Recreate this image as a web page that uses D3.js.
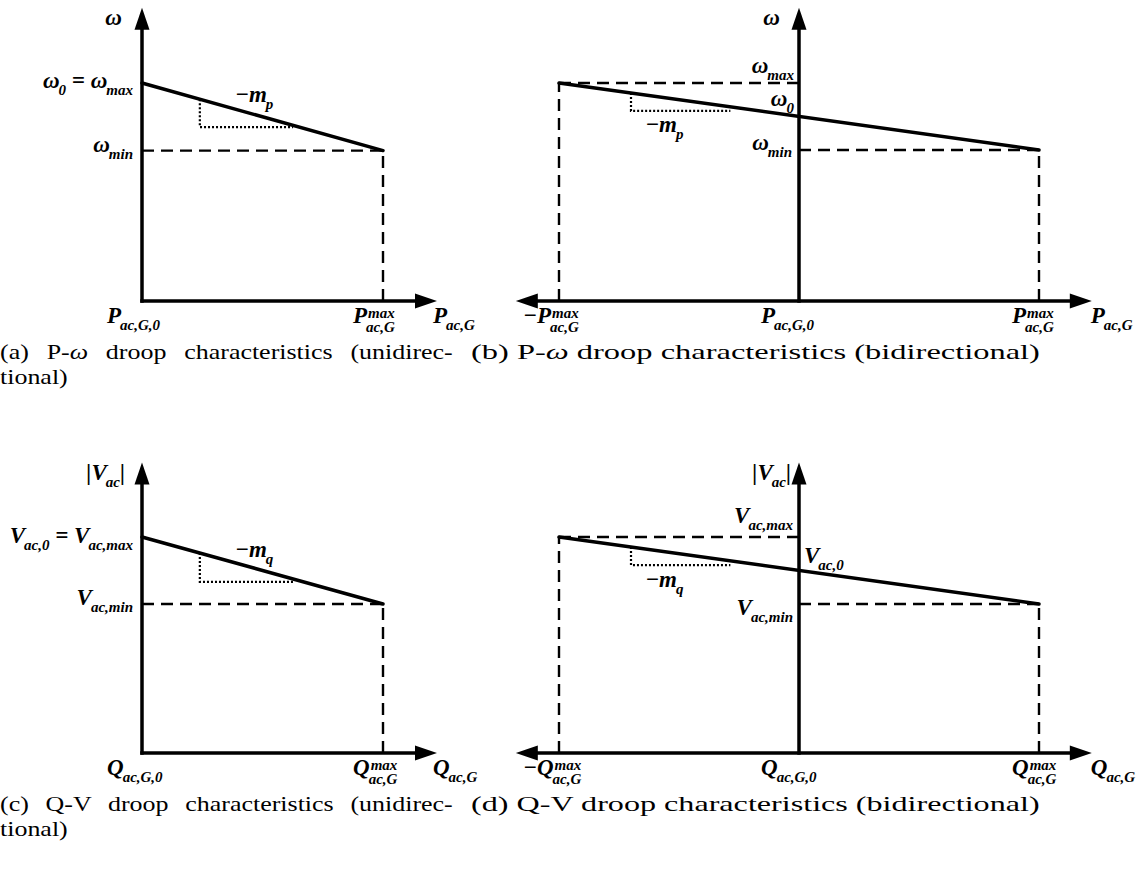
<!DOCTYPE html>
<html>
<head>
<meta charset="utf-8">
<script src="https://cdn.jsdelivr.net/npm/d3@7"></script>
<style>
body { margin: 0; background: #fff; }
.lbl { font-family: "Liberation Serif", "Times New Roman", serif; font-weight: bold; font-style: italic; fill: #000; white-space: pre; }
.cap { font-family: "Liberation Serif", "Times New Roman", serif; font-size: 22px; fill: #000; white-space: pre; }
</style>
</head>
<body>
<svg id="fig" width="1140" height="878"></svg>
<script>
// droop lines: [power (p.u. of max), omega / voltage (p.u. of max)]
var droopA = [[0, 1.0], [1, 0.69]];
var droopB = [[-1, 1.0], [1, 0.693]];
var droopC = [[0, 1.0], [1, 0.69]];
var droopD = [[-1, 1.0], [1, 0.69]];

// dotted slope triangles: [x start, x end, y of bottom edge]
var slopeA = [0.24, 0.627, 0.798];
var slopeB = [-0.70, -0.286, 0.872];
var slopeC = [0.24, 0.627, 0.792];
var slopeD = [-0.70, -0.286, 0.870];

// axis extents (where the arrow tips are)
var xExtUni = [0, 1.224];
var xExtBi = [-1.18, 1.22];
var yExt = [0, 1.345];

// label texts: [text, "sub"|"sup", "stack"]
var yTitleW = [["ω"]];
var yTitleV = [["|V"], ["ac", "sub"], ["|"]];

var yLabelsA = [
  {v: 1.0, parts: [["ω"], ["0", "sub"], [" = ω"], ["max", "sub"]]},
  {v: 0.69, parts: [["ω"], ["min", "sub"]]}
];
var yLabelsB = [
  {v: 1.0, parts: [["ω"], ["max", "sub"]]},
  {v: 0.8465, parts: [["ω"], ["0", "sub"]]},
  {v: 0.693, parts: [["ω"], ["min", "sub"]]}
];
var yLabelsC = [
  {v: 1.0, parts: [["V"], ["ac,0", "sub"], [" = V"], ["ac,max", "sub"]]},
  {v: 0.69, parts: [["V"], ["ac,min", "sub"]]}
];
var yLabelsD = [
  {v: 1.0, parts: [["V"], ["ac,max", "sub"]]},
  {v: 0.845, parts: [["V"], ["ac,0", "sub"]]},
  {v: 0.69, parts: [["V"], ["ac,min", "sub"]]}
];

var xLabelsP = [
  {v: 0, parts: [["P"], ["ac,G,0", "sub"]]},
  {v: 1, parts: [["P"], ["max", "sup"], ["ac,G", "sub", "stack"]]},
  {v: 1.224, parts: [["P"], ["ac,G", "sub"]]}
];
var xLabelsPbi = [
  {v: -1, parts: [["−P"], ["max", "sup"], ["ac,G", "sub", "stack"]]},
  {v: 0, parts: [["P"], ["ac,G,0", "sub"]]},
  {v: 1, parts: [["P"], ["max", "sup"], ["ac,G", "sub", "stack"]]},
  {v: 1.22, parts: [["P"], ["ac,G", "sub"]]}
];
var xLabelsQ = [
  {v: 0, parts: [["Q"], ["ac,G,0", "sub"]]},
  {v: 1, parts: [["Q"], ["max", "sup"], ["ac,G", "sub", "stack"]]},
  {v: 1.224, parts: [["Q"], ["ac,G", "sub"]]}
];
var xLabelsQbi = [
  {v: -1, parts: [["−Q"], ["max", "sup"], ["ac,G", "sub", "stack"]]},
  {v: 0, parts: [["Q"], ["ac,G,0", "sub"]]},
  {v: 1, parts: [["Q"], ["max", "sup"], ["ac,G", "sub", "stack"]]},
  {v: 1.22, parts: [["Q"], ["ac,G", "sub"]]}
];

var slopeLabelP = [["−m"], ["p", "sub"]];
var slopeLabelQ = [["−m"], ["q", "sub"]];

// caption lines, each a list of [text, italic?]
var captions = [
  [[["(a) P-"], ["ω", 1], [" droop characteristics (unidirec-"]], [["tional)"]]],
  [[["(b) P-"], ["ω", 1], [" droop characteristics (bidirectional)"]]],
  [[["(c) Q-V droop characteristics (unidirec-"]], [["tional)"]]],
  [[["(d) Q-V droop characteristics (bidirectional)"]]]
];

var svg = d3.select("#fig");
svg.append("rect").attr("width", 1140).attr("height", 878).attr("fill", "#fff");

// text with sub / superscripts, anchored start / end
function mathText(g, x, y, parts, anchor, size) {
  size = size || 23;
  var t = g.append("g");
  var cx = 0, scriptX = 0, end = 0;
  var stacked = parts.some(function(p) { return p[2] === "stack"; });
  parts.forEach(function(p) {
    var kind = p[1] || "base";
    var s = kind === "base" ? size : 15;
    var dy = 0;
    if (kind === "sub") dy = stacked ? 9 : 7;
    if (kind === "sup") dy = -5;
    var px = p[2] === "stack" ? scriptX : cx;
    if (kind === "sub" && p[2] !== "stack") px -= 1;
    if (kind === "sup") px += 1;
    var el = t.append("text").attr("class", "lbl")
      .attr("x", px).attr("y", dy)
      .style("font-size", s + "px").text(p[0]);
    var w = el.node().getComputedTextLength();
    if (kind !== "base" && p[2] !== "stack") scriptX = px - (kind === "sup" ? 2 : 0);
    end = Math.max(end, px + w);
    cx = p[2] === "stack" ? end : px + w;
  });
  var shift = anchor === "end" ? -end : 0;
  t.attr("transform", "translate(" + (x + shift) + "," + y + ")");
  return t;
}

function arrow(g, tip, dir) {
  var L = 22, H = 7.5, pts;
  if (dir === "up") pts = [[tip[0], tip[1]], [tip[0] - H, tip[1] + L], [tip[0] + H, tip[1] + L]];
  else if (dir === "right") pts = [[tip[0], tip[1]], [tip[0] - L, tip[1] - H], [tip[0] - L, tip[1] + H]];
  else pts = [[tip[0], tip[1]], [tip[0] + L, tip[1] - H], [tip[0] + L, tip[1] + H]];
  g.append("polygon").attr("points", pts.map(function(d) { return d.join(","); }).join(" ")).attr("fill", "#000");
}

function drawPanel(cfg) {
  var g = svg.append("g");
  var x = d3.scaleLinear().domain(cfg.xDomain).range(cfg.xRange);
  var y = d3.scaleLinear().domain([0, 1]).range(cfg.yRange);
  var bi = cfg.xDomain[0] < 0;
  var line = d3.line().x(function(d) { return x(d[0]); }).y(function(d) { return y(d[1]); });
  var lv = d3.scaleLinear().domain([cfg.droop[0][0], cfg.droop[1][0]]).range([cfg.droop[0][1], cfg.droop[1][1]]);
  var yMax = cfg.droop[0][1], yMin = cfg.droop[1][1];

  // dashed guides
  var guides = bi ?
    [[[-1, 0], [-1, yMax]], [[-1, yMax], [0, yMax]], [[0, yMin], [1, yMin]], [[1, 0], [1, yMin]]] :
    [[[0, yMin], [1, yMin]], [[1, 0], [1, yMin]]];
  guides.forEach(function(s) {
    g.append("path").attr("d", line(s)).attr("fill", "none")
      .attr("stroke", "#000").attr("stroke-width", 2.4).attr("stroke-dasharray", "12,7");
  });

  // dotted slope triangle
  var sl = cfg.slope;
  g.append("path")
    .attr("d", line([[sl[0], lv(sl[0])], [sl[0], sl[2]], [sl[1], sl[2]]]))
    .attr("fill", "none").attr("stroke", "#000").attr("stroke-width", 2.2).attr("stroke-dasharray", "2,2");

  // axes
  var ox = x(0), oy = y(0);
  var xl = x(cfg.xExt[0]), xr = x(cfg.xExt[1]), yt = y(yExt[1]);
  g.append("line").attr("x1", ox).attr("x2", ox).attr("y1", oy + 1.75).attr("y2", yt + 20)
    .attr("stroke", "#000").attr("stroke-width", 3.5);
  g.append("line").attr("x1", bi ? xl + 20 : ox - 1.75).attr("x2", xr - 20).attr("y1", oy).attr("y2", oy)
    .attr("stroke", "#000").attr("stroke-width", 3.5);
  arrow(g, [ox, yt], "up");
  arrow(g, [xr, oy], "right");
  if (bi) arrow(g, [xl, oy], "left");

  // droop line
  g.append("path").attr("d", line(cfg.droop)).attr("fill", "none")
    .attr("stroke", "#000").attr("stroke-width", 3.5).attr("stroke-linecap", "round");

  // labels
  mathText(g, ox + cfg.titleDx, yt + cfg.titleDy, cfg.title, "end");
  cfg.yLabels.forEach(function(d, i) {
    var o = cfg.yOff[i];
    mathText(g, ox + o[0], y(d.v) + o[1], d.parts, o[2] || "end");
  });
  cfg.xLabels.forEach(function(d, i) {
    mathText(g, x(d.v) + cfg.xOff[i], oy + 22, d.parts, "start");
  });
  mathText(g, x(cfg.slopeLab[0]), y(cfg.slopeLab[1]), cfg.slopeText, "start");
}

drawPanel({
  xDomain: [0, 1], xRange: [142, 383], yRange: [301, 83], xExt: xExtUni,
  droop: droopA, slope: slopeA, title: yTitleW, titleDx: -20, titleDy: 17,
  yLabels: yLabelsA, yOff: [[-9, 5], [-9, 1]],
  xLabels: xLabelsP, xOff: [-35, -30, -4],
  slopeLab: [0.386, 0.913], slopeText: slopeLabelP
});
drawPanel({
  xDomain: [-1, 1], xRange: [559, 1039], yRange: [301, 83], xExt: xExtBi,
  droop: droopB, slope: slopeB, title: yTitleW, titleDx: -19, titleDy: 17,
  yLabels: yLabelsB, yOff: [[-5, -10], [-5, -10], [-7, 0]],
  xLabels: xLabelsPbi, xOff: [-36, -38, -27, -1],
  slopeLab: [-0.641, 0.775], slopeText: slopeLabelP
});
drawPanel({
  xDomain: [0, 1], xRange: [142, 383], yRange: [753, 537], xExt: xExtUni,
  droop: droopC, slope: slopeC, title: yTitleV, titleDx: -17, titleDy: 18,
  yLabels: yLabelsC, yOff: [[-9, 6], [-9, 1]],
  xLabels: xLabelsQ, xOff: [-35, -30, -4],
  slopeLab: [0.386, 0.907], slopeText: slopeLabelQ
});
drawPanel({
  xDomain: [-1, 1], xRange: [559, 1039], yRange: [753, 537], xExt: xExtBi,
  droop: droopD, slope: slopeD, title: yTitleV, titleDx: -8, titleDy: 18,
  yLabels: yLabelsD, yOff: [[-6, -14], [5, -7, "start"], [-6, 11]],
  xLabels: xLabelsQbi, xOff: [-36, -38, -27, -1],
  slopeLab: [-0.641, 0.769], slopeText: slopeLabelQ
});

// captions: glyphs widened like the reference, first line of (a)/(c) justified
var capPos = [[0, 359, 453], [471, 359, 569], [0, 811, 453], [471, 811, 569]];
var capScale = 1.18;
captions.forEach(function(lines, i) {
  var p = capPos[i];
  lines.forEach(function(segs, j) {
    var t = svg.append("text").attr("class", "cap");
    segs.forEach(function(s) {
      t.append("tspan").style("font-style", s[1] ? "italic" : null).text(s[0]);
    });
    var w = t.node().getComputedTextLength();
    var sx = capScale;
    if (j === 0 && lines.length > 1) {
      var spaces = segs.map(function(s) { return s[0]; }).join("").split(" ").length - 1;
      t.style("word-spacing", ((p[2] / sx - w) / spaces) + "px");
    } else if (j === 0) {
      sx = p[2] / w;
    }
    t.attr("transform", "translate(" + p[0] + "," + (p[1] + j * 25) + ") scale(" + sx + ",1)");
  });
});
</script>
</body>
</html>
